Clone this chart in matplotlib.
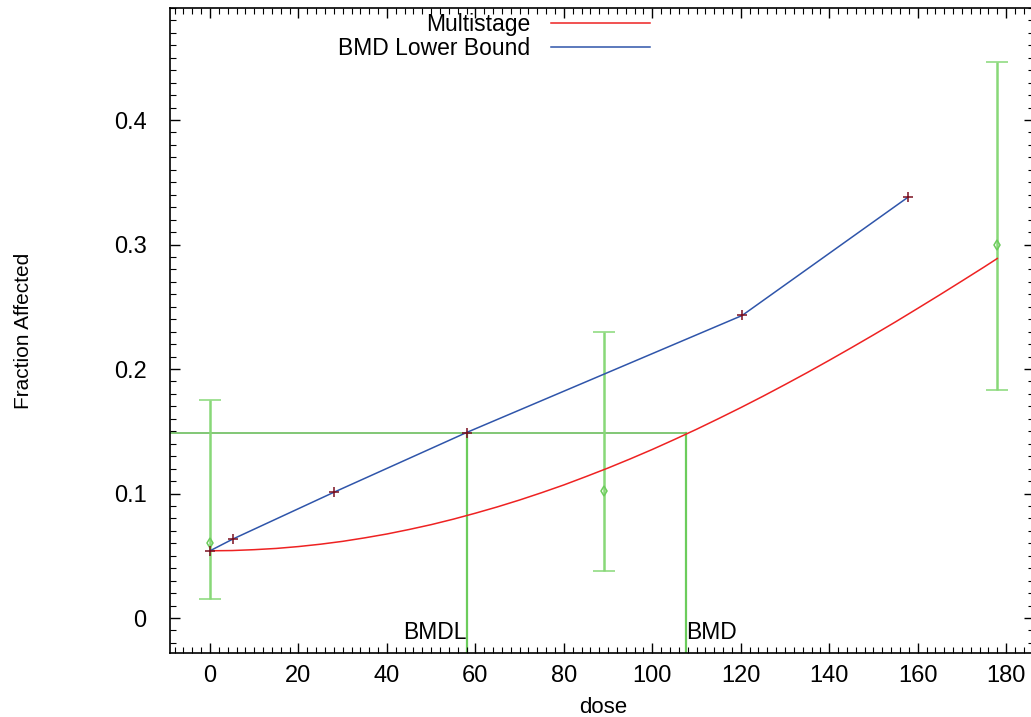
import numpy as np
import matplotlib
matplotlib.use("Agg")
import matplotlib.pyplot as plt
from matplotlib.ticker import MultipleLocator

plt.rcParams['font.family'] = ['Liberation Sans', 'DejaVu Sans']

# observed data with confidence limits
obs_dose = [0, 89, 178]
obs_frac = [0.060, 0.102, 0.300]
obs_lo = [0.015, 0.038, 0.183]
obs_hi = [0.175, 0.230, 0.447]

# multistage model curve
fit_dose = [0, 5, 10, 15, 20, 25, 30, 35, 40, 45, 50, 55, 60, 65, 70, 75, 80, 85, 90,
            95, 100, 105, 110, 115, 120, 125, 130, 135, 140, 145, 150, 155, 160, 165,
            170, 175, 178]
fit_frac = [0.0540, 0.0542, 0.0549, 0.0559, 0.0574, 0.0593, 0.0616, 0.0644, 0.0675,
            0.0711, 0.0750, 0.0794, 0.0842, 0.0893, 0.0948, 0.1007, 0.1069, 0.1136,
            0.1205, 0.1278, 0.1354, 0.1434, 0.1516, 0.1602, 0.1690, 0.1781, 0.1875,
            0.1971, 0.2070, 0.2171, 0.2274, 0.2379, 0.2487, 0.2596, 0.2707, 0.2819,
            0.2888]

# BMD lower bound line
lb_dose = [0, 5.2, 28, 58, 120.3, 157.8]
lb_frac = [0.054, 0.0635, 0.101, 0.149, 0.243, 0.338]

bmr_level = 0.149
bmdl = 58.0
bmd = 107.6

W, H = 1031, 717
fig = plt.figure(figsize=(W / 100, H / 100), dpi=100)
ax = fig.add_axes([170 / W, (H - 653) / H, (1034 - 170) / W, (653 - 8) / H])

green = '#6ccc5c'
green_bar = '#88d878'

ax.plot(fit_dose, fit_frac, color='#ee2222', lw=1.1, label='Multistage', zorder=3)
ax.plot(lb_dose, lb_frac, color='#2f55aa', lw=1.1, label='BMD Lower Bound', zorder=3)
ax.plot(lb_dose, lb_frac, ls='none', marker='+', ms=7, mew=1.1, color='#7a1020', zorder=4)

yerr = [np.array(obs_frac) - np.array(obs_lo), np.array(obs_hi) - np.array(obs_frac)]
ax.errorbar(obs_dose, obs_frac, yerr=yerr, fmt='d', ms=5, mfc='none', mec=green,
            mew=1.1, ecolor=green_bar, elinewidth=1.8, capsize=8, capthick=2.2, zorder=2)

xmin, xmax = -9.05, 186.3
ymin, ymax = -0.0281, 0.49
ax.plot([xmin, bmd], [bmr_level, bmr_level], color='#5fb84f', lw=1.1, zorder=1)
ax.plot([bmdl, bmdl], [ymin, bmr_level], color=green, lw=1.6, zorder=1)
ax.plot([bmd, bmd], [ymin, bmr_level], color=green, lw=1.6, zorder=1)
ax.text(bmdl, -0.012, 'BMDL', ha='right', va='center', fontsize=16.5)
ax.text(bmd, -0.012, 'BMD', ha='left', va='center', fontsize=16.5)

ax.set_xlim(xmin, xmax)
ax.set_ylim(ymin, ymax)
ax.xaxis.set_major_locator(MultipleLocator(20))
ax.xaxis.set_minor_locator(MultipleLocator(2))
ax.yaxis.set_major_locator(MultipleLocator(0.1))
ax.yaxis.set_minor_locator(MultipleLocator(0.01))
ax.yaxis.set_major_formatter(plt.FuncFormatter(lambda v, p: '0' if abs(v) < 1e-9 else f'{v:g}'))
ax.tick_params(which='both', direction='in', top=True, right=True, labelsize=17)
ax.tick_params(axis='y', pad=17)
ax.tick_params(axis='x', pad=9)
ax.tick_params(which='major', length=7, width=1)
ax.tick_params(which='minor', length=4, width=0.8)
for s in ax.spines.values():
    s.set_linewidth(1.2)

ax.set_xlabel('dose', fontsize=16)
ax.xaxis.set_label_coords(0.501, -0.0685)
ax.xaxis.label.set_va('top')
ax.set_ylabel('Fraction Affected', fontsize=15)
ax.yaxis.set_label_coords(-0.159, 0.5)

ax.legend(loc='upper left', bbox_to_anchor=((335 - 170) / 864, 0.997), frameon=False,
          fontsize=16.5, markerfirst=False, handlelength=4.3, handletextpad=0.9,
          labelspacing=0.03, borderaxespad=0, borderpad=0.15)
for t in ax.get_legend().get_texts():
    t.set_ha('right')

fig.savefig('out.png', dpi=100)
